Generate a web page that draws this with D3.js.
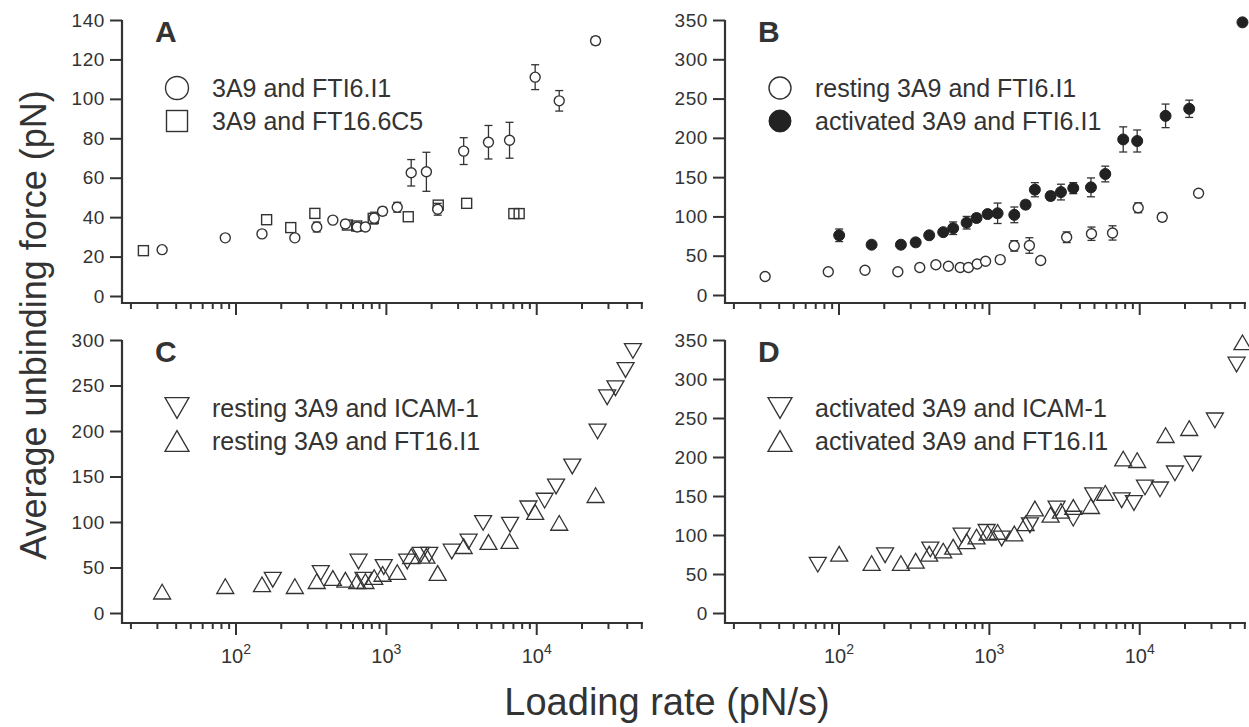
<!DOCTYPE html>
<html>
<head>
<meta charset="utf-8">
<script src="https://cdn.jsdelivr.net/npm/d3@7"></script>
<style>
body { margin: 0; background: #fff; }
text { font-family: "Liberation Sans", Arial, sans-serif; fill: #333; }
</style>
</head>
<body>
<svg id="chart" width="1249" height="727"></svg>
<script>
// resting 3A9 and FTI6.I1 (open circles in A and B, up triangles in C)
const restRate  = [32.5, 85.5, 150, 248, 347, 444, 538, 645, 731, 836, 951, 1190, 1474, 1860, 2211, 3292, 4812, 6645, 9838, 14220, 24815];
const restForce = [23.5, 29.5, 31.5, 29.5, 35, 38.5, 36.5, 35, 35, 39.5, 43, 45, 62.5, 63, 44, 73.5, 78, 79, 111, 99, 129.5];
const restErr   = [1, 1, 1, 1, 2.5, 1, 1, 2, 1, 3, 2, 2.5, 6.7, 9.9, 3, 6.8, 8.5, 9.1, 6.3, 5.2, 2];

// 3A9 and FT16.6C5 (squares in A)
const c5Rate  = [24.4, 161, 233, 337, 555, 640, 824, 1409, 2230, 3446, 7100, 7700];
const c5Force = [23, 38.7, 34.7, 41.9, 36, 35.5, 39.4, 40.2, 46.1, 47, 41.8, 41.8];

// activated 3A9 and FTI6.I1 (filled circles in B, up triangles in D)
const actRate  = [101, 166, 260, 326, 401, 497, 579, 711, 828, 981, 1143, 1476, 1755, 2023, 2574, 3016, 3643, 4776, 5946, 7825, 9690, 14970, 21500, 48600];
const actForce = [76, 64, 64, 67, 76, 80, 85, 92, 98, 103, 104, 102, 115, 134, 126, 131, 136, 137, 154, 198, 196, 228, 237, 347];
const actErr   = [8, 3, 4, 4, 4, 3, 8, 8, 5, 3, 13, 10, 5, 9, 5, 10, 7, 12, 10, 16, 14, 15, 11, 0];

// resting 3A9 and ICAM-1 (down triangles in C)
const icamRestRate  = [177, 369, 658, 710, 968, 1387, 1706, 1942, 2742, 3550, 4433, 6700, 8870, 11370, 13550, 17370, 25580, 29630, 33650, 39270, 43970];
const icamRestForce = [36.5, 44, 56.5, 36.5, 50.5, 56.5, 64, 64, 67.5, 78.5, 99, 97, 115, 123.5, 139, 161, 199.5, 237, 247, 267, 288];

// activated 3A9 and ICAM-1 (down triangles in D)
const icamActRate  = [72.8, 204, 408, 659, 966, 1216, 1876, 2820, 3640, 4945, 7640, 9220, 10920, 13740, 17270, 22650, 31850, 44400];
const icamActForce = [62, 74, 81.5, 99.5, 104, 95.5, 112.5, 134, 121, 151, 144.5, 141, 161, 158.5, 179, 191.5, 247, 318.5];

const xDomain = [17.58, 51300];
const majorTicks = [100, 1000, 10000];
const minorTicks = [20,30,40,50,60,70,80,90,200,300,400,500,600,700,800,900,2000,3000,4000,5000,6000,7000,8000,9000,20000,30000,40000,50000];
const yTicksA = [0, 20, 40, 60, 80, 100, 120, 140];
const yTicksB = [0, 50, 100, 150, 200, 250, 300, 350];
const yTicksC = [0, 50, 100, 150, 200, 250, 300];
const yTicksD = [0, 50, 100, 150, 200, 250, 300, 350];

const svg = d3.select("#chart");
const ink = "#333";

function zip(rate, force, err) {
  return rate.map((r, i) => ({ r: r, f: force[i], e: err ? err[i] : 0 }));
}

// marker drawing
function marker(g, type, size) {
  const s = size;
  if (type == "circle") {
    g.append("circle").attr("r", s / 2).attr("fill", "#fff").attr("stroke", ink).attr("stroke-width", 1.4);
  } else if (type == "dot") {
    g.append("circle").attr("r", s / 2).attr("fill", "#222").attr("stroke", "#222");
  } else if (type == "square") {
    g.append("rect").attr("x", -s / 2).attr("y", -s / 2).attr("width", s).attr("height", s)
      .attr("fill", "none").attr("stroke", ink).attr("stroke-width", 1.4);
  } else {
    const w = s / 2, h = s * 0.866 / 2;
    const pts = type == "down"
      ? [[-w, -h], [w, -h], [0, h]]
      : [[-w, h], [w, h], [0, -h]];
    g.append("path").attr("d", "M" + pts.join("L") + "Z")
      .attr("fill", "none").attr("stroke", ink).attr("stroke-width", 1.3);
  }
}

function drawPanel(p) {
  const g = svg.append("g");
  const x = d3.scaleLog().domain(xDomain).range([p.left, p.right]);
  const y = d3.scaleLinear().domain([0, p.yMax]).range([p.yZero, p.yTop]);

  // y axis
  const ya = g.append("g").attr("transform", "translate(" + p.left + ",0)")
    .call(d3.axisLeft(y).tickValues(p.yTicks).tickSize(12).tickPadding(5));
  ya.select(".domain").remove();
  ya.selectAll("line").attr("stroke", ink).attr("stroke-width", 2);
  ya.selectAll("text").style("font-size", "19px").style("letter-spacing", "0.6px").attr("fill", ink);
  g.append("line").attr("x1", p.left).attr("x2", p.left).attr("y1", p.yTop).attr("y2", p.axisY + 1)
    .attr("stroke", ink).attr("stroke-width", 2.2);

  // x axis: minor and major ticks
  const xm = g.append("g").attr("transform", "translate(0," + p.axisY + ")")
    .call(d3.axisBottom(x).tickValues(minorTicks).tickSize(6).tickFormat(""));
  xm.select(".domain").remove();
  xm.selectAll("line").attr("stroke", ink).attr("stroke-width", 2);
  const xM = g.append("g").attr("transform", "translate(0," + p.axisY + ")")
    .call(d3.axisBottom(x).tickValues(majorTicks).tickSize(12).tickFormat(""));
  xM.select(".domain").remove();
  xM.selectAll("line").attr("stroke", ink).attr("stroke-width", 2);
  if (p.labels) {
    const t = xM.selectAll(".tick").append("text")
      .attr("y", 40).attr("text-anchor", "middle").attr("fill", ink)
      .style("font-size", "20px");
    t.append("tspan").text("10");
    t.append("tspan").attr("dy", -9).style("font-size", "14px").text(d => Math.round(Math.log10(d)));
  }
  g.append("line").attr("x1", p.left).attr("x2", p.right).attr("y1", p.axisY).attr("y2", p.axisY)
    .attr("stroke", ink).attr("stroke-width", 2.2);

  // panel letter
  g.append("text").attr("x", p.left + 33).attr("y", p.yTop + 22)
    .style("font-size", "30px").style("font-weight", "bold").text(p.letter);

  // series
  p.series.forEach(function(s) {
    const pts = g.append("g").selectAll("g").data(s.data).enter().append("g")
      .attr("transform", d => "translate(" + x(d.r) + "," + y(d.f) + ")");
    pts.filter(d => d.e > 0).each(function(d) {
      const sel = d3.select(this);
      const top = y(d.f + d.e) - y(d.f), bot = y(d.f - d.e) - y(d.f);
      sel.append("line").attr("x1", 0).attr("x2", 0).attr("y1", top).attr("y2", bot)
        .attr("stroke", ink).attr("stroke-width", 1.3);
      [top, bot].forEach(v => sel.append("line").attr("x1", -4).attr("x2", 4).attr("y1", v).attr("y2", v)
        .attr("stroke", ink).attr("stroke-width", 1.3));
    });
    pts.each(function() { marker(d3.select(this), s.type, s.size); });
  });

  // legend
  p.legend.forEach(function(l, i) {
    const ly = p.yTop + 68 + i * 33;
    const lg = g.append("g").attr("transform", "translate(" + (p.left + 55) + "," + ly + ")");
    marker(lg, l.type, l.size);
    g.append("text").attr("x", p.left + 90).attr("y", ly + 9)
      .style("font-size", "25px").text(l.name);
  });
}

const rest = zip(restRate, restForce, restErr);
const act = zip(actRate, actForce, actErr);

drawPanel({
  letter: "A", left: 122, right: 643, yTop: 20, yZero: 296, axisY: 303, yMax: 140, yTicks: yTicksA, labels: false,
  series: [
    { type: "square", size: 10, data: zip(c5Rate, c5Force) },
    { type: "circle", size: 10, data: rest }
  ],
  legend: [{ type: "circle", size: 23, name: "3A9 and FTI6.I1" }, { type: "square", size: 21, name: "3A9 and FT16.6C5" }]
});
drawPanel({
  letter: "B", left: 725, right: 1246, yTop: 20, yZero: 295, axisY: 303, yMax: 350, yTicks: yTicksB, labels: false,
  series: [
    { type: "circle", size: 10, data: rest },
    { type: "dot", size: 11, data: act }
  ],
  legend: [{ type: "circle", size: 22, name: "resting 3A9 and FTI6.I1" }, { type: "dot", size: 22, name: "activated 3A9 and FTI6.I1" }]
});
drawPanel({
  letter: "C", left: 122, right: 643, yTop: 340, yZero: 613, axisY: 623, yMax: 300, yTicks: yTicksC, labels: true,
  series: [
    { type: "up", size: 17, data: zip(restRate, restForce) },
    { type: "down", size: 17, data: zip(icamRestRate, icamRestForce) }
  ],
  legend: [{ type: "down", size: 24, name: "resting 3A9 and ICAM-1" }, { type: "up", size: 24, name: "resting 3A9 and FT16.I1" }]
});
drawPanel({
  letter: "D", left: 725, right: 1246, yTop: 340, yZero: 613, axisY: 623, yMax: 350, yTicks: yTicksD, labels: true,
  series: [
    { type: "up", size: 17, data: zip(actRate, actForce) },
    { type: "down", size: 17, data: zip(icamActRate, icamActForce) }
  ],
  legend: [{ type: "down", size: 24, name: "activated 3A9 and ICAM-1" }, { type: "up", size: 24, name: "activated 3A9 and FT16.I1" }]
});

// axis titles
svg.append("text").attr("transform", "translate(46,325) rotate(-90)")
  .attr("text-anchor", "middle").style("font-size", "36px").text("Average unbinding force (pN)");
svg.append("text").attr("x", 667).attr("y", 715)
  .attr("text-anchor", "middle").style("font-size", "38px").text("Loading rate (pN/s)");
</script>
</body>
</html>
